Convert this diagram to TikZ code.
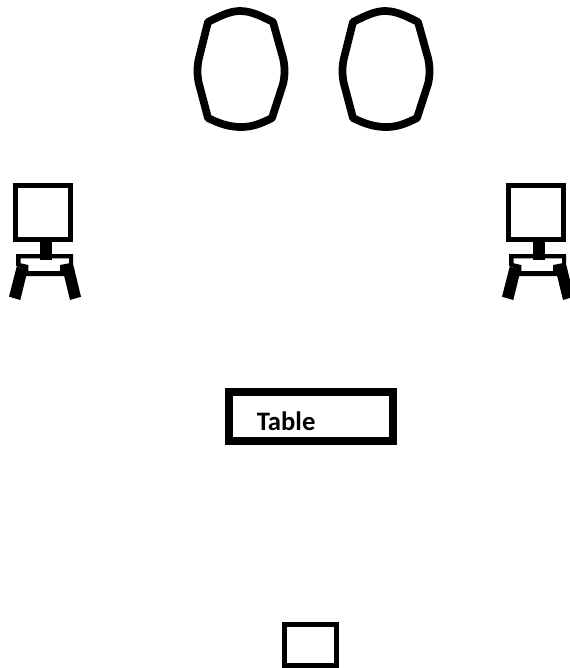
\documentclass[tikz,border=0pt]{standalone}
\usepackage{fontspec}
\setmainfont{Carlito}

\tikzset{
  backframe/.style={draw, line width=3.75pt, inner sep=0pt, outer sep=0pt, minimum width=41.6pt, minimum height=40.5pt},
  thinframe/.style={draw, line width=3.75pt, inner sep=0pt, outer sep=0pt, minimum width=39pt, minimum height=31pt},
  tablebox/.style={draw, line width=6pt, inner sep=0pt, outer sep=0pt, minimum width=123pt, minimum height=36.6pt},
  tablelabel/.style={font=\bfseries\fontsize{20}{20}\selectfont, inner sep=0pt, anchor=base west},
}

\begin{document}
\begin{tikzpicture}[x=0.75pt, y=-0.75pt]
            \useasboundingbox (0,0) rectangle (569,668);
            % the two round shapes at the top
            \foreach \dx in {0,145} {
                \draw[line width=5.8pt, line join=round, shift={(\dx,0)}]
                    (208,22) .. controls (220,16) and (230,11) .. (240,11)
                    .. controls (251,11) and (261,16) .. (273,22)
                    -- (283,58)
                    .. controls (285,66) and (285,76) .. (283,84)
                    -- (272,118)
                    .. controls (260,124) and (252,127) .. (241,127)
                    .. controls (230,127) and (220,124) .. (208,118)
                    -- (199,84)
                    .. controls (197,76) and (197,66) .. (199,58) -- cycle;
            }
            % the two seats with legs
            \foreach \dx/\name in {0/l,493/r} {
                \begin{scope}[shift={(\dx,0)}]
                    \node[backframe] (back\name) at (43.25,212.5) {};
                    \fill[even odd rule] (16,254) -- (73,254) -- (73,266) -- (64,270) -- (64,276)
                        -- (26,276) -- (26,270) -- (16,266) -- cycle
                        (20.7,258.3) -- (69,258.3) -- (69,263.3) -- (60,265) -- (60,271)
                        -- (28.3,271) -- (28.3,265) -- (20.7,263.3) -- cycle;
                    \fill (40,237) rectangle (52,260);
                    \fill (16.7,266.7) -- (27.7,270) -- (20.3,300) -- (9,296.7) -- cycle;
                    \fill (62.3,268.3) -- (73.3,265) -- (81,296.7) -- (70,300) -- cycle;
                \end{scope}
            }
            \node[tablebox] (table) at (311,416.5) {};
            \node[tablelabel] (tabletext) at (256.5,430) {Table};
            \node[thinframe] (box) at (310.25,645) {};
        \end{tikzpicture}
\end{document}
